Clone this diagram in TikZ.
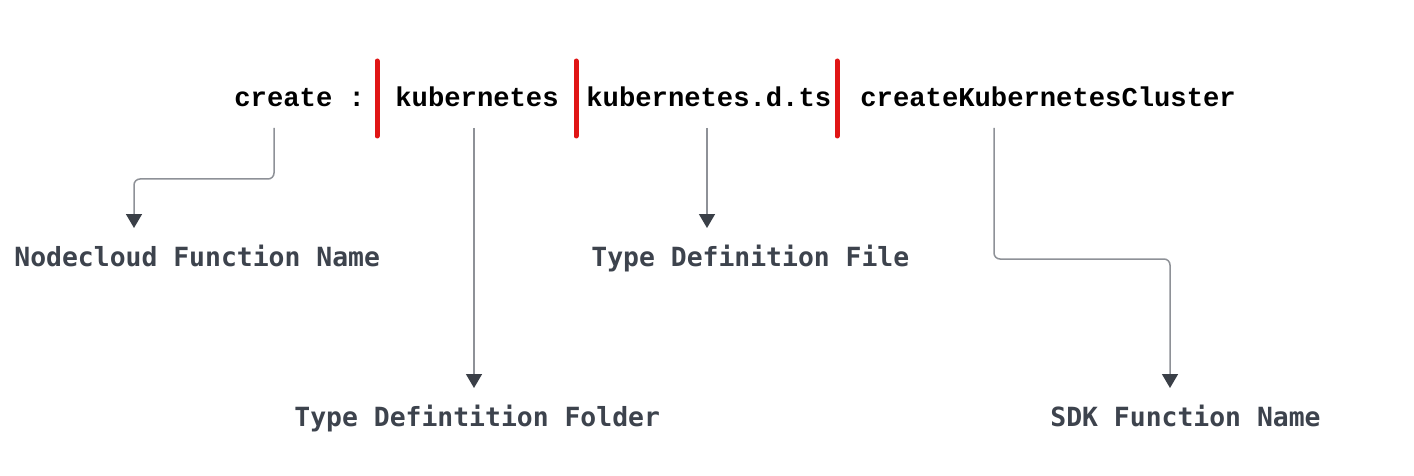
\documentclass[tikz,border=0pt]{standalone}
\usepackage{fontspec}
\newfontfamily\topfont{Liberation Mono}
\newfontfamily\labfont{DejaVu Sans Mono}
\usetikzlibrary{arrows.meta}
\definecolor{lab}{HTML}{3D434D}
\definecolor{conn}{HTML}{8E9197}
\definecolor{tip}{HTML}{3A3F47}
\definecolor{bar}{HTML}{E01515}
\begin{document}
\begin{tikzpicture}[x=0.5pt,y=-0.5pt,
  toptext/.style={inner sep=0pt,anchor=base west,font=\topfont\bfseries\fontsize{13.6pt}{16pt}\selectfont,text=black},
  labtext/.style={inner sep=0pt,anchor=base west,font=\labfont\bfseries\fontsize{13.2pt}{16pt}\selectfont,text=lab},
  sep/.style={draw=bar,line width=2.5pt,line cap=round},
  connector/.style={draw=conn,line width=0.75pt,rounded corners=3pt,
    -{Triangle[width=8pt,length=7pt,color=tip]}}]
\useasboundingbox[fill=white] (0,0) rectangle (1414,476);
% top line
\node[toptext] (create) at (234,107) {create :};
\node[toptext] (kube) at (395,107) {kubernetes};
\node[toptext] (dts) at (586,107) {kubernetes.d.ts};
\node[toptext] (sdk) at (860,107) {createKubernetesCluster};
% separators
\coordinate (b1t) at (377,61); \coordinate (b1b) at (377,136);
\coordinate (b2t) at (576,61); \coordinate (b2b) at (576,136);
\coordinate (b3t) at (837,61); \coordinate (b3b) at (837,136);
\draw[sep] (b1t) -- (b1b);
\draw[sep] (b2t) -- (b2b);
\draw[sep] (b3t) -- (b3b);
% labels
\node[labtext] (l1) at (14,266) {Nodecloud Function Name};
\node[labtext] (l2) at (591,266) {Type Definition File};
\node[labtext] (l3) at (294,426) {Type Defintition Folder};
\node[labtext] (l4) at (1050,426) {SDK Function Name};
% connector ends
\coordinate (s1) at (274,128); \coordinate (t1) at (134,228);
\coordinate (s2) at (474,128); \coordinate (t2) at (474,388);
\coordinate (s3) at (707,128); \coordinate (t3) at (707,228);
\coordinate (s4) at (994,128); \coordinate (t4) at (1170,388);
\draw[connector] (s1) -- (274,179) -| (t1);
\draw[connector] (s2) -- (t2);
\draw[connector] (s3) -- (t3);
\draw[connector] (s4) -- (994,259) -| (t4);
\end{tikzpicture}
\end{document}
